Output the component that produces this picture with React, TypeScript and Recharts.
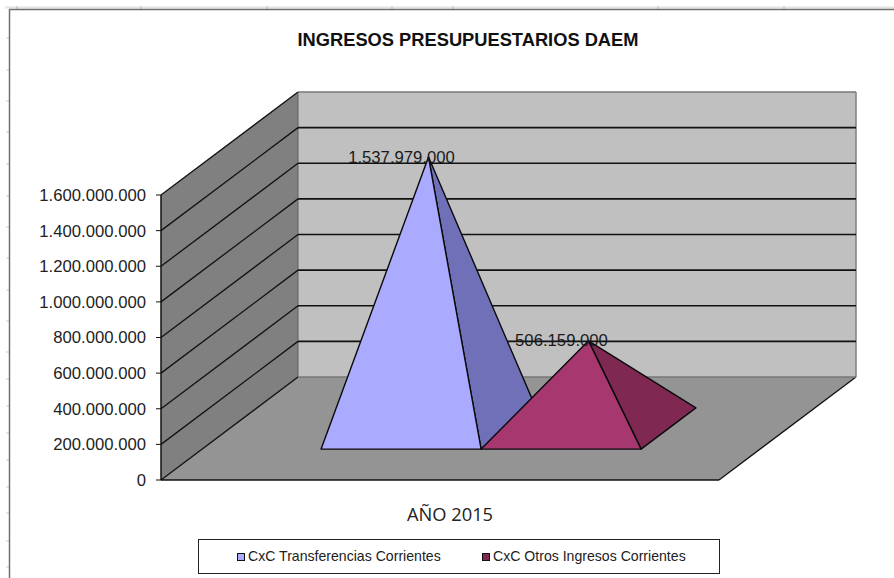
import React from "react";
import { BarChart, Bar, XAxis, YAxis, CartesianGrid, ReferenceArea, Legend, LabelList } from "recharts";

const categories = ["AÑO 2015"];
const transferencias = [1537979000];
const otrosIngresos = [506159000];
const seriesNames = ["CxC Transferencias Corrientes", "CxC Otros Ingresos Corrientes"];
const yTicks = [0, 200000000, 400000000, 600000000, 800000000, 1000000000, 1200000000, 1400000000, 1600000000];
const title = "INGRESOS PRESUPUESTARIOS DAEM";

const rows = categories.map((c, i) => ({ category: c, a: transferencias[i], b: otrosIngresos[i] }));

const W = 894, H = 578;
const LEFT = 161, RIGHT = 719, TOP = 195, BOTTOM = 480;
const DX = 137, DY = 103; // depth vector of the 3-D box
const AXIS_W = 100;

const fmt = (v: number) => String(v).replace(/\B(?=(\d{3})+$)/g, ".");
const FONT = "'Liberation Sans', Arial, sans-serif";

const pts = (a: number[][]) => a.map((p) => p.join(",")).join(" ");

// faint ruler marks of the sheet behind the chart
const SHEET_TOP = [17, 141, 267, 392, 453, 658, 784];
const SHEET_LEFT = [38, 70, 101, 132, 164, 196, 227, 258, 290, 321, 352, 379, 406, 433, 460, 487, 513, 541, 567];

const SheetFrame = () => (
  <svg width={W} height={H} style={{ position: "absolute", left: 0, top: 0 }}>
    <line x1={5} y1={7.5} x2={W} y2={7.5} stroke="#e2e2e2" strokeWidth={2} />
    {SHEET_TOP.map((x) => (
      <line key={x} x1={x} y1={6} x2={x} y2={9} stroke="#bbb" strokeWidth={1} />
    ))}
    {SHEET_LEFT.map((y) => (
      <line key={y} x1={6} y1={y} x2={9} y2={y} stroke="#ccc" strokeWidth={1} />
    ))}
    <line x1={9} y1={9.5} x2={W} y2={9.5} stroke="#6f6f6f" strokeWidth={1.5} />
    <line x1={9.5} y1={9} x2={9.5} y2={H} stroke="#6f6f6f" strokeWidth={1.5} />
  </svg>
);

const Walls = (p: any) => {
  const { x, y, width, height } = p;
  const r = x + width, b = y + height;
  return (
    <g>
      <polygon points={pts([[x, b], [x + DX, b - DY], [x + DX, y - DY], [x, y]])} fill="#808080" />
      <polygon points={pts([[x + DX, b - DY], [r + DX, b - DY], [r + DX, y - DY], [x + DX, y - DY]])} fill="#c0c0c0" />
      <polygon points={pts([[x, b], [r, b], [r + DX, b - DY], [x + DX, b - DY]])} fill="#949494" />
      <line x1={r + DX} y1={y - DY} x2={r + DX} y2={b - DY} stroke="#808080" strokeWidth={1.5} />
      <line x1={x + DX} y1={y - DY} x2={x + DX} y2={b - DY} stroke="#606060" strokeWidth={1} />
      <line x1={r} y1={b} x2={r + DX} y2={b - DY} stroke="#111" strokeWidth={1.3} />
    </g>
  );
};

const gridLine = (p: any) => {
  const { x1, x2, y1, index } = p;
  const edge = Math.abs(y1 - TOP) < 1 || Math.abs(y1 - BOTTOM) < 1;
  return (
    <g key={index}>
      <line x1={x1} y1={y1} x2={x1 + DX} y2={y1 - DY} stroke="#111" strokeWidth={1.3} />
      <line x1={x1 + DX} y1={y1 - DY} x2={x2 + DX} y2={y1 - DY} stroke={edge ? "#777" : "#111"} strokeWidth={edge ? 1.5 : 1.6} />
    </g>
  );
};

const pyramid = (front: string, side: string) => (p: any) => {
  const { x, y, width, height } = p;
  const r = x + width, b = y + height;
  const baseF = 0.3, baseB = 0.7, mid = 0.5, apexDrop = 2.5;
  const bfY = b - DY * baseF;
  const ax = x + width / 2 + DX * mid;
  const ay = y - DY * mid + apexDrop;
  const l = x + DX * baseF;
  const rr = r + DX * baseF;
  const backR = [r + DX * baseB, b - DY * baseB];
  return (
    <g stroke="#0a0a0a" strokeWidth={1.4} strokeLinejoin="round">
      <polygon points={pts([[rr, bfY], backR, [ax, ay]])} fill={side} />
      <polygon points={pts([[l, bfY], [rr, bfY], [ax, ay]])} fill={front} />
    </g>
  );
};

const valueLabel = (p: any) => {
  const { x, y, width, value } = p;
  return (
    <text
      x={x + width / 2 + DX * 0.5 - 27}
      y={y - DY * 0.5 + 2.5}
      textAnchor="middle"
      dominantBaseline="central"
      fontFamily={FONT}
      fontSize={16.7}
      fill="#1a1a1a"
    >
      {fmt(value)}
    </text>
  );
};

const XTick = (p: any) => (
  <text x={p.x + 10} y={BOTTOM + 41} textAnchor="middle" fontFamily="'Open Sans', sans-serif" fontSize={18.3} fill="#222">
    {p.payload.value}
  </text>
);

const LegendBox = (p: any) => {
  const items = seriesNames
    .map((n) => (p.payload || []).find((it: any) => it.value === n))
    .filter(Boolean);
  const offs = [38, 283];
  return (
    <div style={{ position: "relative", width: 520, height: 33, border: "1px solid #222", background: "#fff", fontFamily: FONT, fontSize: 14.1, color: "#222" }}>
      {items.map((it: any, i: number) => (
        <div key={i} style={{ position: "absolute", left: offs[i], top: 8, whiteSpace: "nowrap", display: "flex", alignItems: "center", lineHeight: "17px" }}>
          <span style={{ display: "inline-block", width: 6, height: 6, border: "1.5px solid #111", background: it.color, marginRight: 3 }} />
          {it.value}
        </div>
      ))}
    </div>
  );
};

export default function App() {
  return (
    <div style={{ position: "absolute", left: 0, top: 0, width: W, height: H, overflow: "hidden", background: "#fff" }}>
      <SheetFrame />
      <div style={{ position: "absolute", left: 0, width: 936, top: 30, textAlign: "center", fontFamily: FONT, fontWeight: 700, fontSize: 18.3, lineHeight: "20px", color: "#111" }}>
        {title}
      </div>
      <BarChart
        style={{ position: "absolute", left: 0, top: 0 }}
        width={W}
        height={H}
        data={rows}
        barGap={0}
        barSize={160}
        margin={{ left: LEFT - AXIS_W, right: W - RIGHT, top: TOP, bottom: 0 }}
      >
        <ReferenceArea y1={0} y2={1600000000} ifOverflow="visible" shape={Walls} stroke="none" zIndex={-200} />
        <CartesianGrid vertical={false} horizontal={gridLine} />
        <XAxis dataKey="category" height={H - BOTTOM} tick={XTick} tickLine={false} axisLine={{ stroke: "#111", strokeWidth: 1.5 }} />
        <YAxis
          width={AXIS_W}
          domain={[0, 1600000000]}
          ticks={yTicks}
          interval={0}
          tickFormatter={fmt}
          tickSize={5}
          tickMargin={10}
          tick={{ fontFamily: FONT, fontSize: 16.7, fill: "#222" }}
          tickLine={{ stroke: "#111" }}
          axisLine={{ stroke: "#111", strokeWidth: 1.5 }}
        />
        <Bar dataKey="a" name={seriesNames[0]} fill="#aaaaff" shape={pyramid("#aaaaff", "#7070b9")} isAnimationActive={false}>
          <LabelList dataKey="a" content={valueLabel} />
        </Bar>
        <Bar dataKey="b" name={seriesNames[1]} fill="#7f2852" shape={pyramid("#a6376f", "#7f2852")} isAnimationActive={false}>
          <LabelList dataKey="b" content={valueLabel} />
        </Bar>
        <Legend
          layout="horizontal"
          verticalAlign="middle"
          align="center"
          content={LegendBox}
          wrapperStyle={{ left: 198, top: 539, width: 522, height: 35, bottom: "auto" }}
        />
      </BarChart>
    </div>
  );
}
